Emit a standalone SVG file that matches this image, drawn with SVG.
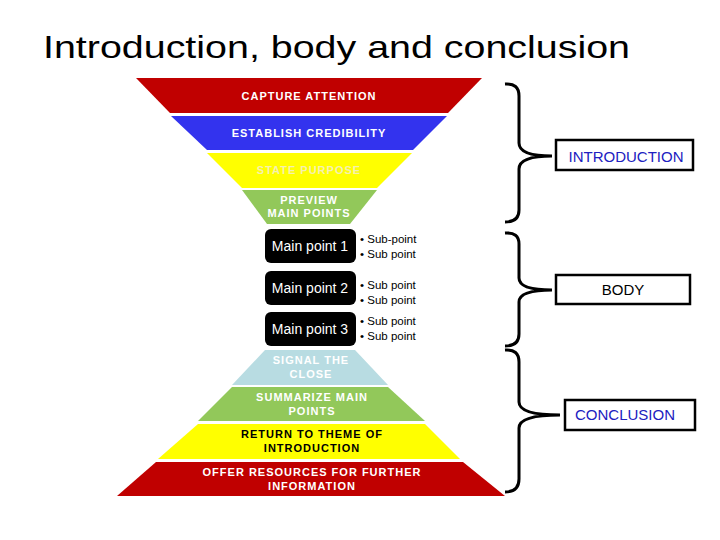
<svg xmlns="http://www.w3.org/2000/svg" width="720" height="540" viewBox="0 0 720 540">
<style>
.t{font-family:"Liberation Sans",Arial,sans-serif;font-weight:bold;font-size:11px;letter-spacing:1px;text-anchor:middle}
.w{fill:#fff}
.m{font-family:"Liberation Sans",Arial,sans-serif;font-size:14px;fill:#fff;text-anchor:middle}
.s{font-family:"Liberation Sans",Arial,sans-serif;font-size:11.5px;fill:#000}
.br{fill:none;stroke:#000;stroke-width:3}
.lb{fill:#fff;stroke:#000;stroke-width:2.5}
.lt{font-family:"Liberation Sans",Arial,sans-serif;font-size:15px;text-anchor:middle}
</style>
<rect width="720" height="540" fill="#fff"/>
<text x="43" y="58" font-family="Liberation Sans,Arial,sans-serif" font-size="32" textLength="587" lengthAdjust="spacingAndGlyphs" fill="#000">Introduction, body and conclusion</text>
<g id="capture"><polygon points="136,78 482,78 448,113 170,113" fill="#c00000"/><text class="t w" x="309" y="100">CAPTURE ATTENTION</text></g>
<g id="credibility"><polygon points="171,116 447,116 413,150 207,150" fill="#3333ee"/><text class="t w" x="309" y="137">ESTABLISH CREDIBILITY</text></g>
<g id="purpose"><polygon points="207,153 412,153 377,188 242,188" fill="#ffff00"/><text class="t" x="309" y="174" fill="#f5f0b0">STATE PURPOSE</text></g>
<g id="preview"><polygon points="242,190 377,190 350,224 267,224" fill="#92c85a"/><text class="t w" x="309" y="204">PREVIEW</text><text class="t w" x="309" y="217">MAIN POINTS</text></g>
<g id="mp1"><rect x="265" y="229" width="91" height="34" rx="6" fill="#000"/><text class="m" x="310" y="251">Main point 1</text><text class="s" x="360" y="243">• Sub-point</text><text class="s" x="360" y="258">• Sub point</text></g>
<g id="mp2"><rect x="265" y="271" width="91" height="34" rx="6" fill="#000"/><text class="m" x="310" y="293">Main point 2</text><text class="s" x="360" y="289">• Sub point</text><text class="s" x="360" y="304">• Sub point</text></g>
<g id="mp3"><rect x="265" y="312" width="91" height="34" rx="6" fill="#000"/><text class="m" x="310" y="334">Main point 3</text><text class="s" x="360" y="325">• Sub point</text><text class="s" x="360" y="340">• Sub point</text></g>
<g id="signal"><polygon points="265,350 355,350 388,385 232,385" fill="#b8dce2"/><text class="t w" x="311" y="364">SIGNAL THE</text><text class="t w" x="311" y="378">CLOSE</text></g>
<g id="summarize"><polygon points="232,387 388,387 425,421 198,421" fill="#92c85a"/><text class="t w" x="312" y="401">SUMMARIZE MAIN</text><text class="t w" x="312" y="415">POINTS</text></g>
<g id="return"><polygon points="198,424 425,424 460,459 158,459" fill="#ffff00"/><text class="t" x="312" y="438" fill="#000">RETURN TO THEME OF</text><text class="t" x="312" y="452" fill="#000">INTRODUCTION</text></g>
<g id="offer"><polygon points="156,462 463,462 505,496 117,496" fill="#c00000"/><text class="t w" x="312" y="476">OFFER RESOURCES FOR FURTHER</text><text class="t w" x="312" y="490">INFORMATION</text></g>
<g id="connectors">
<path class="br" d="M505,84 Q519,83 519,96 V143 Q519,156 552,156 Q519,156 519,169 V210 Q519,222 505,222"/>
<path class="br" d="M505,233 Q519,232 519,244 V278 Q519,290 552,290 Q519,290 519,302 V334 Q519,346 505,346"/>
<path class="br" d="M505,350 Q519,349 519,362 V402 Q519,415 560,415 Q519,415 519,428 V479 Q519,492 505,492"/>
</g>
<g id="intro"><rect class="lb" x="556" y="140" width="137" height="30"/><text class="lt" x="626" y="162" fill="#2020c0">INTRODUCTION</text></g>
<g id="body"><rect class="lb" x="556" y="275" width="134" height="29"/><text class="lt" x="623" y="295" fill="#000">BODY</text></g>
<g id="conclusion"><rect class="lb" x="565" y="400" width="130" height="30"/><text class="lt" x="625" y="420" fill="#2020c0">CONCLUSION</text></g>
</svg>
